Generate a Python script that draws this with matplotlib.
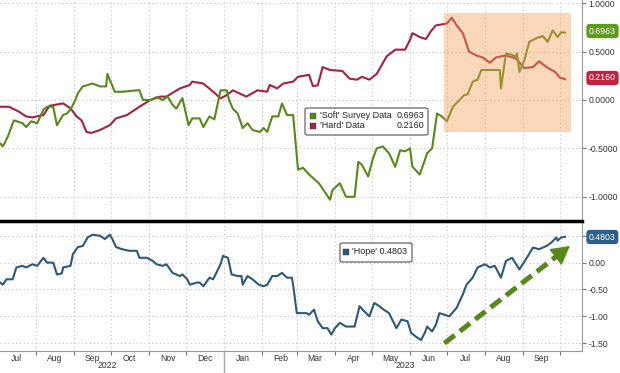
import matplotlib
matplotlib.use("Agg")
import matplotlib.pyplot as plt
import matplotlib.dates as mdates
import pandas as pd
from matplotlib.patches import Rectangle, FancyBboxPatch

# 'Hard' data (red)
hard_dates = ["2022-07-03", "2022-07-10", "2022-07-18", "2022-07-24", "2022-07-29", "2022-08-07",
              "2022-08-12", "2022-08-23", "2022-08-29", "2022-09-03", "2022-09-07", "2022-09-11",
              "2022-09-15", "2022-09-22", "2022-09-30", "2022-10-05", "2022-10-14", "2022-10-24",
              "2022-11-02", "2022-11-10", "2022-11-15", "2022-11-26", "2022-12-04", "2022-12-06",
              "2022-12-15", "2022-12-23", "2022-12-29", "2023-01-03", "2023-01-08", "2023-01-19",
              "2023-01-28", "2023-02-05", "2023-02-07", "2023-02-13", "2023-02-18", "2023-02-26",
              "2023-03-02", "2023-03-11", "2023-03-14", "2023-03-18", "2023-03-22", "2023-03-28",
              "2023-04-07", "2023-04-13", "2023-04-19", "2023-04-23", "2023-04-29", "2023-05-05",
              "2023-05-09", "2023-05-13", "2023-05-20", "2023-05-28", "2023-06-01", "2023-06-03",
              "2023-06-09", "2023-06-14", "2023-06-18", "2023-06-22", "2023-07-01", "2023-07-05",
              "2023-07-09", "2023-07-14", "2023-07-19", "2023-07-25", "2023-07-30", "2023-08-05",
              "2023-08-10", "2023-08-18", "2023-08-26", "2023-09-02", "2023-09-09", "2023-09-14",
              "2023-09-20", "2023-09-27", "2023-10-01", "2023-10-05"]
hard_vals = [-0.07, -0.07, -0.12, -0.17, -0.18, -0.155,
             -0.06, -0.035, -0.086, -0.17, -0.21, -0.33,
             -0.34, -0.31, -0.26, -0.19, -0.155, -0.07,
             0.0, 0.035, 0.035, 0.12, 0.155, 0.19,
             0.17, 0.086, 0.017, 0.05, 0.10, 0.035,
             0.10, 0.086, 0.155, 0.12, 0.17, 0.19,
             0.24, 0.26, 0.145, 0.15, 0.34, 0.31,
             0.30, 0.22, 0.21, 0.24, 0.21, 0.27,
             0.36, 0.45, 0.52, 0.52, 0.62, 0.69,
             0.65, 0.63, 0.71, 0.77, 0.79, 0.85,
             0.77, 0.69, 0.50, 0.46, 0.44, 0.385,
             0.44, 0.46, 0.43, 0.33, 0.34, 0.40,
             0.34, 0.29, 0.23, 0.216]

# 'Soft' survey data (green)
soft_dates = ["2022-07-03", "2022-07-05", "2022-07-09", "2022-07-14", "2022-07-21", "2022-07-24",
              "2022-07-28", "2022-08-02", "2022-08-07", "2022-08-10", "2022-08-15", "2022-08-18",
              "2022-08-23", "2022-08-26", "2022-08-29", "2022-09-02", "2022-09-04", "2022-09-08",
              "2022-09-16", "2022-09-22", "2022-09-27", "2022-09-28", "2022-10-04", "2022-10-10",
              "2022-10-22", "2022-10-24", "2022-10-27", "2022-11-02", "2022-11-07", "2022-11-12",
              "2022-11-16", "2022-11-20", "2022-11-23", "2022-11-28", "2022-12-03", "2022-12-06",
              "2022-12-12", "2022-12-15", "2022-12-20", "2022-12-24", "2022-12-29", "2023-01-03",
              "2023-01-05", "2023-01-08", "2023-01-12", "2023-01-16", "2023-01-20", "2023-01-24",
              "2023-01-30", "2023-02-02", "2023-02-05", "2023-02-09", "2023-02-14", "2023-02-17",
              "2023-02-21", "2023-02-26", "2023-03-02", "2023-03-06", "2023-03-11", "2023-03-19",
              "2023-03-28", "2023-03-30", "2023-04-05", "2023-04-10", "2023-04-17", "2023-04-20",
              "2023-04-23", "2023-04-28", "2023-05-02", "2023-05-05", "2023-05-10", "2023-05-15",
              "2023-05-20", "2023-05-24", "2023-05-28", "2023-06-01", "2023-06-03", "2023-06-09",
              "2023-06-15", "2023-06-19", "2023-06-23", "2023-06-27", "2023-07-01", "2023-07-06",
              "2023-07-15", "2023-07-18", "2023-07-22", "2023-07-26", "2023-07-29", "2023-08-13",
              "2023-08-14", "2023-08-18", "2023-08-22", "2023-08-26", "2023-08-27", "2023-08-29",
              "2023-09-02", "2023-09-06", "2023-09-12", "2023-09-17", "2023-09-21", "2023-09-25",
              "2023-09-29", "2023-10-02", "2023-10-05"]
soft_vals = [-0.45, -0.48, -0.38, -0.21, -0.24, -0.28,
             -0.22, -0.24, -0.10, -0.07, -0.07, -0.26,
             -0.155, -0.14, -0.10, 0.0, 0.07, 0.14,
             0.17, 0.14, 0.14, 0.27, 0.085, 0.085,
             0.10, 0.10, 0.0, 0.0, 0.03, 0.0,
             0.035, -0.05, -0.09, 0.02, -0.26, -0.19,
             -0.19, -0.28, -0.17, -0.20, 0.10, 0.10,
             0.0, -0.09, -0.14, -0.29, -0.24, -0.31,
             -0.33, -0.29, -0.33, -0.17, -0.17, -0.035,
             -0.155, -0.155, -0.72, -0.70, -0.77, -0.86,
             -1.03, -0.93, -0.86, -1.0, -1.0, -0.64,
             -0.67, -0.79, -0.60, -0.50, -0.48, -0.55,
             -0.69, -0.52, -0.53, -0.50, -0.69, -0.77,
             -0.55, -0.50, -0.14, -0.17, -0.22, -0.07,
             0.05, 0.06, 0.19, 0.21, 0.31, 0.31,
             0.12, 0.48, 0.47, 0.45, 0.48, 0.29,
             0.41, 0.60, 0.64, 0.66, 0.60, 0.72,
             0.65, 0.70, 0.6963]

# 'Hope' (blue, lower panel)
hope_dates = ["2022-07-03", "2022-07-05", "2022-07-08", "2022-07-13", "2022-07-16", "2022-07-21",
              "2022-07-24", "2022-07-29", "2022-08-02", "2022-08-04", "2022-08-07", "2022-08-10",
              "2022-08-15", "2022-08-18", "2022-08-22", "2022-08-23", "2022-08-29", "2022-08-31",
              "2022-09-04", "2022-09-08", "2022-09-12", "2022-09-16", "2022-09-22", "2022-09-26",
              "2022-09-30", "2022-10-02", "2022-10-05", "2022-10-10", "2022-10-16", "2022-10-22",
              "2022-10-24", "2022-10-30", "2022-11-04", "2022-11-07", "2022-11-12", "2022-11-15",
              "2022-11-20", "2022-11-26", "2022-11-28", "2022-12-02", "2022-12-04", "2022-12-10",
              "2022-12-12", "2022-12-15", "2022-12-20", "2022-12-23", "2022-12-29", "2022-12-31",
              "2023-01-04", "2023-01-07", "2023-01-12", "2023-01-15", "2023-01-16", "2023-01-20",
              "2023-01-24", "2023-01-29", "2023-02-02", "2023-02-05", "2023-02-09", "2023-02-13",
              "2023-02-17", "2023-02-21", "2023-02-25", "2023-02-26", "2023-03-01", "2023-03-05",
              "2023-03-09", "2023-03-11", "2023-03-15", "2023-03-18", "2023-03-22", "2023-03-26",
              "2023-03-29", "2023-04-01", "2023-04-05", "2023-04-10", "2023-04-17", "2023-04-21",
              "2023-04-25", "2023-04-29", "2023-05-03", "2023-05-07", "2023-05-11", "2023-05-15",
              "2023-05-21", "2023-05-25", "2023-05-30", "2023-06-02", "2023-06-06", "2023-06-10",
              "2023-06-13", "2023-06-15", "2023-06-19", "2023-06-22", "2023-06-25", "2023-06-29",
              "2023-07-03", "2023-07-09", "2023-07-14", "2023-07-17", "2023-07-22", "2023-07-26",
              "2023-08-01", "2023-08-05", "2023-08-09", "2023-08-14", "2023-08-18", "2023-08-23",
              "2023-08-29", "2023-09-04", "2023-09-09", "2023-09-14", "2023-09-20", "2023-09-24",
              "2023-09-28", "2023-09-29", "2023-10-02", "2023-10-05"]
hope_vals = [-0.375, -0.41, -0.31, -0.31, -0.09, -0.06,
             -0.09, -0.03, -0.06, 0.0, 0.09, 0.0,
             0.0, -0.22, -0.20, -0.09, -0.06, 0.16,
             0.29, 0.31, 0.47, 0.52, 0.50, 0.44,
             0.52, 0.44, 0.29, 0.25, 0.22, 0.22,
             0.09, 0.09, 0.03, -0.03, -0.06, -0.03,
             -0.19, -0.25, -0.22, -0.31, -0.41, -0.37,
             -0.37, -0.44, -0.28, -0.31, -0.03, 0.125,
             0.09, -0.22, -0.25, -0.25, -0.41, -0.25,
             -0.31, -0.41, -0.44, -0.41, -0.25, -0.25,
             -0.19, -0.28, -0.28, -0.41, -0.94, -0.94,
             -0.94, -0.97, -0.875, -1.09, -1.22, -1.22,
             -1.34, -1.22, -1.12, -1.19, -1.19, -0.81,
             -0.91, -1.0, -0.75, -0.81, -0.88, -0.94,
             -1.22, -1.06, -1.09, -1.31, -1.38, -1.44,
             -1.31, -1.19, -1.28, -1.16, -0.94, -0.97,
             -1.0, -0.84, -0.59, -0.41, -0.28, -0.09,
             -0.03, -0.09, -0.06, -0.28, 0.03, 0.09,
             -0.125, 0.09, 0.28, 0.25, 0.31, 0.375,
             0.47, 0.41, 0.47, 0.4803]

soft_last, hard_last, hope_last = 0.6963, 0.2160, 0.4803

# highlighted window and trend arrow
shade_start, shade_end = "2023-06-29", "2023-10-10"
shade_low, shade_high = -0.33, 0.90
arrow_from = ("2023-06-29", -1.50)
arrow_to = ("2023-10-09", 0.31)

GREEN = "#58881c"
RED = "#a3223f"
BLUE = "#2d5878"
GRID = "#c4c4c4"

plt.rcParams['font.family'] = ['Liberation Sans', 'DejaVu Sans']
plt.rcParams['axes.unicode_minus'] = False

W, H = 620, 373
fig = plt.figure(figsize=(6.2, 3.73), dpi=100)


def fx(x):
    return x / W


def fy(y):
    return 1 - y / H


ax1 = fig.add_axes([0, fy(221), fx(582), 221 / H])
ax2 = fig.add_axes([0, fy(351), fx(582), 130 / H], sharex=ax1)

d = pd.to_datetime
ax1.plot(d(hard_dates), hard_vals, color=RED, lw=1.5, zorder=2)
ax1.plot(d(soft_dates), soft_vals, color=GREEN, lw=1.5, zorder=2)
ax2.plot(d(hope_dates), hope_vals, color=BLUE, lw=1.5, zorder=2)

# orange highlight box
x0 = mdates.date2num(d(shade_start))
x1 = mdates.date2num(d(shade_end))
ax1.add_patch(Rectangle((x0, shade_low), x1 - x0, shade_high - shade_low,
                        fc="#f5a05a", alpha=0.42, ec="none", zorder=3))

ax1.set_xlim(d("2022-07-02 17:00"), d("2023-10-18 21:00"))
ax1.set_ylim(-1.25, 1.033)
ax2.set_ylim(-1.645, 0.775)

for ax in (ax1, ax2):
    ax.yaxis.tick_right()
    ax.xaxis.set_major_locator(mdates.MonthLocator())
    ax.grid(True, which="major", color=GRID, lw=0.8, ls=(0, (1, 2.5)))
    for s in ("left", "top", "bottom"):
        ax.spines[s].set_visible(False)
    ax.spines["right"].set_color("#9a9a9a")
    ax.tick_params(axis="y", length=3, width=0.8, color="#777", pad=1.5,
                   labelsize=6.2, labelcolor="#333")

ax1.set_yticks([-1.0, -0.5, 0.0, 0.5, 1.0])
ax1.yaxis.set_major_formatter(plt.FuncFormatter(lambda v, p: "%.4f" % v))
ax1.tick_params(axis="x", length=0, labelbottom=False)

ax2.set_yticks([-1.5, -1.0, -0.5, 0.0, 0.5])
ax2.yaxis.set_major_formatter(plt.FuncFormatter(lambda v, p: "" if v > 0.4 else "%.2f" % v))
ax2.spines["top"].set_visible(True)
ax2.spines["top"].set_color("black")
ax2.spines["top"].set_linewidth(2.5)
ax2.spines["bottom"].set_visible(True)
ax2.spines["bottom"].set_color("#9a9a9a")

# month labels mid-month, ticks at month starts
mids = pd.date_range("2022-07-01", "2023-09-01", freq="MS") + pd.Timedelta(days=15)
ax2.xaxis.set_minor_locator(plt.FixedLocator(mdates.date2num(mids)))
ax2.xaxis.set_minor_formatter(plt.FuncFormatter(lambda v, p: mdates.num2date(v).strftime("%b")))
ax2.xaxis.set_major_formatter(plt.NullFormatter())
ax2.tick_params(axis="x", which="major", length=3, color="#777", direction="out")
ax2.tick_params(axis="x", which="minor", length=0, pad=2, labelsize=6.2, labelcolor="#333")

# year labels and year separator
tr = ax2.get_xaxis_transform()
ax2.text(d("2022-09-28"), -0.11, "2022", transform=tr, ha="center", va="center",
         fontsize=6.2, color="#333")
ax2.text(d("2023-05-28"), -0.11, "2023", transform=tr, ha="center", va="center",
         fontsize=6.2, color="#333")
ax2.plot([d("2023-01-01")] * 2, [0, -0.17], transform=tr, color="#aaa", lw=1, clip_on=False)

# dashed trend arrow
ax_s = mdates.date2num(d(arrow_from[0]))
ax_e = mdates.date2num(d(arrow_to[0]))
t = 0.9
mid_x = ax_s + t * (ax_e - ax_s)
mid_y = arrow_from[1] + t * (arrow_to[1] - arrow_from[1])
ax2.plot([ax_s, mid_x], [arrow_from[1], mid_y], color=GREEN, lw=3.6,
         ls=(0, (2.6, 1.3)), dash_capstyle="butt", zorder=4)
ax2.annotate("", xy=(ax_e, arrow_to[1]), xytext=(mid_x, mid_y),
             arrowprops=dict(arrowstyle="-|>,head_length=0.9,head_width=0.5",
                             color=GREEN, lw=1, shrinkA=0, shrinkB=0, mutation_scale=13),
             zorder=4)


# legends (drawn as boxes)
def legend_box(x0, y0, x1, y1):
    fig.patches.append(FancyBboxPatch((fx(x0), fy(y1)), fx(x1) - fx(x0), fy(y0) - fy(y1),
                                      boxstyle="round,pad=0,rounding_size=0.004",
                                      transform=fig.transFigure, fc="white",
                                      ec="#666", lw=0.9, zorder=5))


def swatch(x, y, color):
    fig.patches.append(Rectangle((fx(x), fy(y + 3)), fx(6), 6 / H, transform=fig.transFigure,
                                 fc=color, ec="#444", lw=0.3, zorder=6))


legend_box(305, 108, 428, 135)
swatch(310, 115.5, GREEN)
swatch(310, 126, RED)
fig.text(fx(320), fy(115.5), "'Soft' Survey Data", fontsize=6.5, va="center", color="#222", zorder=7)
fig.text(fx(424), fy(115.5), "%.4f" % soft_last, fontsize=6.5, va="center", ha="right", color="#222", zorder=7)
fig.text(fx(320), fy(126), "'Hard' Data", fontsize=6.5, va="center", color="#222", zorder=7)
fig.text(fx(424), fy(126), "%.4f" % hard_last, fontsize=6.5, va="center", ha="right", color="#222", zorder=7)

legend_box(340, 243, 412, 262)
swatch(343, 252, BLUE)
fig.text(fx(352), fy(252), "'Hope' %.4f" % hope_last, fontsize=6.5, va="center", color="#222", zorder=7)

# last-value tags on the right axis
for yv, val, col in ((31, soft_last, "#5e9a1e"), (78, hard_last, "#c0223f"), (237, hope_last, "#2d5f8c")):
    fig.text(fx(589), fy(yv), "%.4f" % val, fontsize=6.3, color="white", va="center", ha="left",
             zorder=8, bbox=dict(boxstyle="round,pad=0.3,rounding_size=0.4", fc=col, ec="none"))

fig.savefig("out.png", dpi=100)
